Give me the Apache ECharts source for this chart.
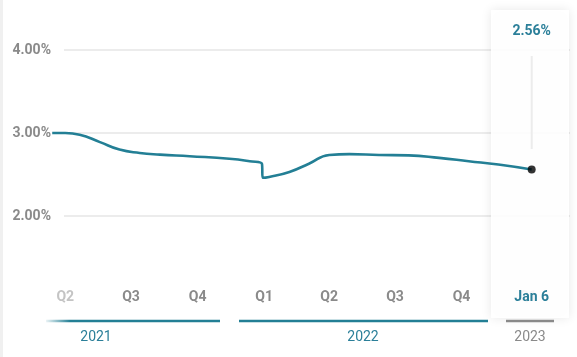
<!DOCTYPE html>
<html>
<head>
<meta charset="utf-8">
<script src="https://cdn.jsdelivr.net/npm/echarts@6/dist/echarts.min.js"></script>
<style>
html,body{margin:0;padding:0;background:#fff;}
#c{width:577px;height:357px;}
</style>
</head>
<body>
<div id="c"></div>
<script>
// ---- data ----
const dates = ['2021-03-14','2021-04-01','2021-04-21','2021-05-19','2021-06-15','2021-07-13','2021-08-10','2021-09-20','2021-11-14','2021-12-12','2021-12-29','2021-12-30','2022-01-08','2022-02-05','2022-03-04','2022-04-01','2022-04-29','2022-06-09','2022-07-20','2022-08-31','2022-10-11','2022-11-21','2023-01-06'];
const rates = [3.00,3.00,2.98,2.89,2.80,2.76,2.74,2.72,2.69,2.66,2.63,2.46,2.47,2.53,2.63,2.735,2.745,2.735,2.73,2.70,2.66,2.62,2.56];
const quarterDates = ['2021-04-01','2021-07-01','2021-10-01','2022-01-01','2022-04-01','2022-07-01','2022-10-01','2023-01-01'];
const quarterLabels = ['Q2','Q3','Q4','Q1','Q2','Q3','Q4','Q1'];
const yearLabels = ['2021','2022','2023'];
const yTicks = [2,3,4];
const lastLabel = 'Jan 6';

const base = Date.UTC(2021,0,1);
function dayOf(s){const p=s.split('-');return Math.round((Date.UTC(+p[0],+p[1]-1,+p[2])-base)/86400000);}
const seriesData = dates.map((d,i)=>[dayOf(d),rates[i]]);
const qDays = quarterDates.map(dayOf);
const lastPt = seriesData[seriesData.length-1];

const TEAL = '#237f95';
const GRAY = '#8a8a8a';

const chart = echarts.init(document.getElementById('c'));
chart.setOption({
  animation:false,
  grid:{left:52,right:7,top:50,bottom:58},
  xAxis:{
    type:'value', min:71.7, max:788,
    axisLine:{show:false}, axisTick:{show:false}, splitLine:{show:false},
    axisLabel:{
      customValues:qDays, margin:-9,
      fontFamily:'Roboto', fontSize:14, fontWeight:'bold', color:GRAY,
      formatter:function(v){const i=qDays.indexOf(Math.round(v));const t=i>=0?quarterLabels[i]:'';return i===0?'{f|'+t+'}':t;},
      rich:{f:{color:'#c4c4c4',fontFamily:'Roboto',fontSize:14,fontWeight:'bold'}}
    }
  },
  yAxis:{
    type:'value', min:1, max:4, interval:1,
    axisLine:{show:false}, axisTick:{show:false},
    splitLine:{show:true, showMinLine:false, lineStyle:{color:'#e6e6e6',width:1.5}},
    axisLabel:{
      margin:1, fontFamily:'Roboto', fontSize:14, fontWeight:'bold', color:GRAY,
      formatter:function(v){return yTicks.indexOf(v)>=0?v.toFixed(2)+'%':'';}
    }
  },
  series:[
    {type:'line', data:seriesData, smooth:0.5, showSymbol:false,
     lineStyle:{color:TEAL,width:2.6}, z:3},
    {type:'scatter', data:[lastPt], symbolSize:8, itemStyle:{color:'#000'}, z:4, clip:false}
  ]
});

const px = chart.convertToPixel({gridIndex:0},[lastPt[0],lastPt[1]]);
const cx = px[0];
chart.setOption({
  graphic:[
    {type:'rect', shape:{x:0,y:0,width:3,height:357}, style:{fill:'#f0f0f0'}, z:1, silent:true},
    {type:'rect', shape:{x:52,y:40,width:12,height:190}, style:{fill:'#fff'}, z:1, silent:true},
    {type:'rect', shape:{x:491,y:10,width:78,height:308}, style:{fill:'rgba(255,255,255,0.93)',shadowBlur:10,shadowColor:'rgba(0,0,0,0.10)'}, z:1, silent:true},
    {type:'line', shape:{x1:cx,y1:56,x2:cx,y2:149}, style:{stroke:'#ececec',lineWidth:2}, z:2, silent:true},
    {type:'text', x:cx, y:31, style:{text:lastPt[1].toFixed(2)+'%', fill:'#2b7f99', font:'bold 14px Roboto', textAlign:'center', textVerticalAlign:'middle'}, z:5},
    {type:'text', x:cx, y:297, style:{text:lastLabel, fill:'#2b7f99', font:'bold 14px Roboto', textAlign:'center', textVerticalAlign:'middle'}, z:5},
    {type:'line', shape:{x1:46,y1:321,x2:220,y2:321}, style:{lineWidth:2.5, stroke:new echarts.graphic.LinearGradient(0,0,1,0,[{offset:0,color:'rgba(35,127,149,0)'},{offset:0.15,color:TEAL},{offset:1,color:TEAL}])}, z:2, silent:true},
    {type:'line', shape:{x1:239,y1:321,x2:488,y2:321}, style:{lineWidth:2.5, stroke:TEAL}, z:2, silent:true},
    {type:'line', shape:{x1:506,y1:321,x2:554,y2:321}, style:{lineWidth:2.5, stroke:GRAY}, z:2, silent:true},
    {type:'text', x:96, y:337, style:{text:yearLabels[0], fill:'#2b7f99', font:'14px Roboto', textAlign:'center', textVerticalAlign:'middle'}, z:5},
    {type:'text', x:363, y:337, style:{text:yearLabels[1], fill:'#2b7f99', font:'14px Roboto', textAlign:'center', textVerticalAlign:'middle'}, z:5},
    {type:'text', x:530, y:337, style:{text:yearLabels[2], fill:GRAY, font:'14px Roboto', textAlign:'center', textVerticalAlign:'middle'}, z:5}
  ]
});
</script>
</body>
</html>
